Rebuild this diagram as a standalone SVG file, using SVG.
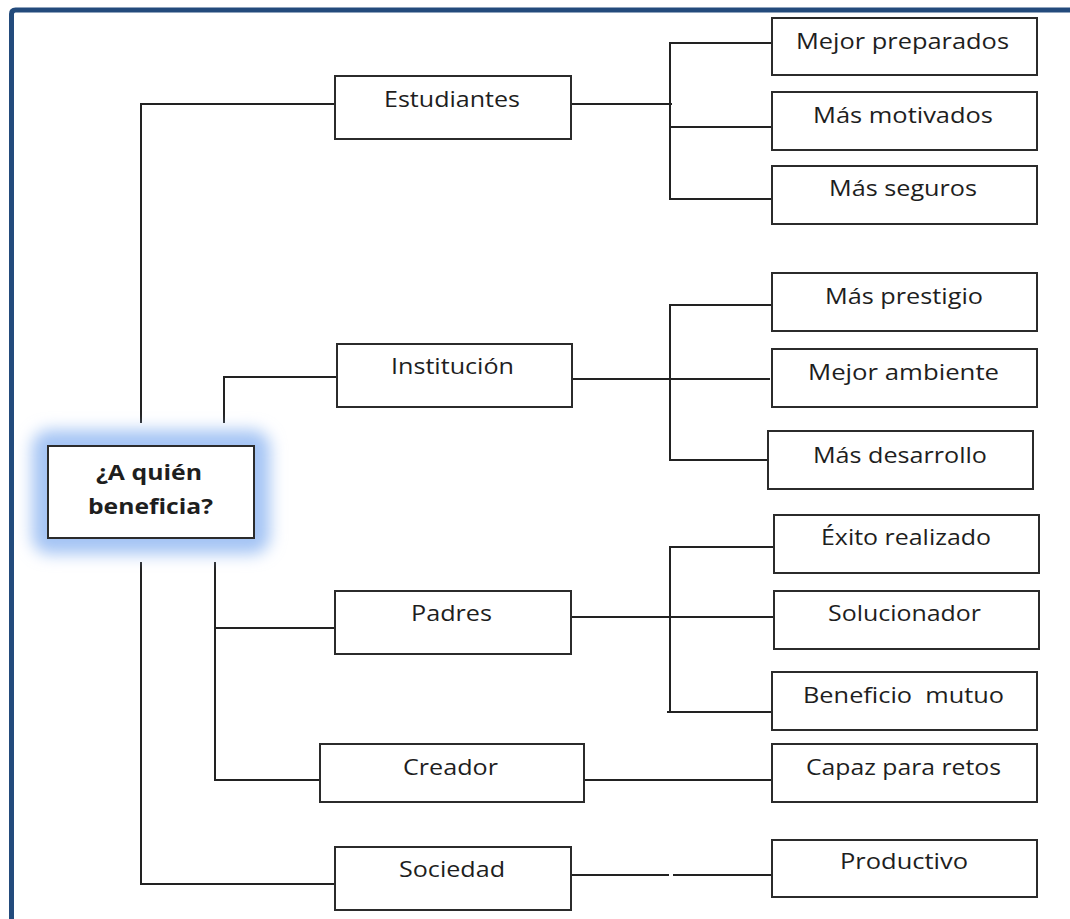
<svg xmlns="http://www.w3.org/2000/svg" width="1070" height="919" viewBox="0 0 1070 919">
<style>
.box{fill:#fff;stroke:#2b2b2b;stroke-width:2}
.ln{fill:none;stroke:#222;stroke-width:2}
.t{font-family:"Open Sans","Liberation Sans",sans-serif;font-size:21px;fill:#1e1e1e}
.b{font-weight:bold}
</style>
<defs>
<filter id="glow" x="-30%" y="-40%" width="160%" height="180%">
<feGaussianBlur stdDeviation="8"/>
</filter>
</defs>
<rect width="1070" height="919" fill="#fff"/>
<path d="M11.5 919 V14 Q11.5 10 15.5 10 H1070" fill="none" stroke="#234b7c" stroke-width="5"/>
<g id="connectors">
<path class="ln" d="M141 423 V104 H335"/>
<path class="ln" d="M224 423 V377 H337"/>
<path class="ln" d="M141 562 V884 H335"/>
<path class="ln" d="M215 562 V780 H320"/>
<path class="ln" d="M215 628 H335"/>
<path class="ln" d="M571 104 H672"/>
<path class="ln" d="M772 43 H670 V199 H772"/>
<path class="ln" d="M671 127 H775"/>
<path class="ln" d="M572 379 H770"/>
<path class="ln" d="M772 305 H670 V460 H768"/>
<path class="ln" d="M571 617 H779"/>
<path class="ln" d="M774 547 H670 V712 H772"/>
<path class="ln" d="M667 712 H672"/>
<path class="ln" d="M584 780 H772"/>
<path class="ln" d="M571 875 H669 M673 875 H777"/>
</g>
<g id="root">
<rect x="32" y="430" width="238" height="124" rx="18" fill="#a4c4f4" filter="url(#glow)"/>
<rect class="box" x="48" y="446" width="206" height="92"/>
<text class="t b" x="149" y="480" text-anchor="middle" textLength="106" lengthAdjust="spacingAndGlyphs">¿A quién</text>
<text class="t b" x="150.5" y="514" text-anchor="middle" textLength="125" lengthAdjust="spacingAndGlyphs">beneficia?</text>
</g>
<g id="estudiantes">
<rect class="box" x="335" y="76" width="236" height="63"/>
<text class="t" x="452" y="107" text-anchor="middle" textLength="136" lengthAdjust="spacingAndGlyphs">Estudiantes</text>
</g>
<g id="institucion">
<rect class="box" x="337" y="344" width="235" height="63"/>
<text class="t" x="452.5" y="374" text-anchor="middle" textLength="123" lengthAdjust="spacingAndGlyphs">Institución</text>
</g>
<g id="padres">
<rect class="box" x="335" y="591" width="236" height="63"/>
<text class="t" x="451.5" y="621" text-anchor="middle" textLength="81" lengthAdjust="spacingAndGlyphs">Padres</text>
</g>
<g id="creador">
<rect class="box" x="320" y="744" width="264" height="58"/>
<text class="t" x="450.5" y="775" text-anchor="middle" textLength="95" lengthAdjust="spacingAndGlyphs">Creador</text>
</g>
<g id="sociedad">
<rect class="box" x="335" y="847" width="236" height="63"/>
<text class="t" x="452" y="877" text-anchor="middle" textLength="106" lengthAdjust="spacingAndGlyphs">Sociedad</text>
</g>
<g id="mejor-preparados">
<rect class="box" x="772" y="18" width="265" height="57"/>
<text class="t" x="902.5" y="49" text-anchor="middle" textLength="213" lengthAdjust="spacingAndGlyphs">Mejor preparados</text>
</g>
<g id="mas-motivados">
<rect class="box" x="772" y="92" width="265" height="58"/>
<text class="t" x="903" y="123" text-anchor="middle" textLength="180" lengthAdjust="spacingAndGlyphs">Más motivados</text>
</g>
<g id="mas-seguros">
<rect class="box" x="772" y="166" width="265" height="58"/>
<text class="t" x="903" y="196" text-anchor="middle" textLength="148" lengthAdjust="spacingAndGlyphs">Más seguros</text>
</g>
<g id="mas-prestigio">
<rect class="box" x="772" y="273" width="265" height="58"/>
<text class="t" x="904" y="304" text-anchor="middle" textLength="158" lengthAdjust="spacingAndGlyphs">Más prestigio</text>
</g>
<g id="mejor-ambiente">
<rect class="box" x="772" y="349" width="265" height="58"/>
<text class="t" x="903.5" y="380" text-anchor="middle" textLength="191" lengthAdjust="spacingAndGlyphs">Mejor ambiente</text>
</g>
<g id="mas-desarrollo">
<rect class="box" x="768" y="431" width="265" height="58"/>
<text class="t" x="900" y="463" text-anchor="middle" textLength="174" lengthAdjust="spacingAndGlyphs">Más desarrollo</text>
</g>
<g id="exito-realizado">
<rect class="box" x="774" y="515" width="265" height="58"/>
<text class="t" x="906" y="545" text-anchor="middle" textLength="170" lengthAdjust="spacingAndGlyphs">Éxito realizado</text>
</g>
<g id="solucionador">
<rect class="box" x="774" y="591" width="265" height="58"/>
<text class="t" x="904.5" y="621" text-anchor="middle" textLength="153" lengthAdjust="spacingAndGlyphs">Solucionador</text>
</g>
<g id="beneficio-mutuo">
<rect class="box" x="772" y="672" width="265" height="58"/>
<text class="t" x="903.5" y="703" text-anchor="middle" textLength="201" lengthAdjust="spacingAndGlyphs" xml:space="preserve">Beneficio  mutuo</text>
</g>
<g id="capaz-para-retos">
<rect class="box" x="772" y="744" width="265" height="58"/>
<text class="t" x="903.5" y="775" text-anchor="middle" textLength="195" lengthAdjust="spacingAndGlyphs">Capaz para retos</text>
</g>
<g id="productivo">
<rect class="box" x="772" y="840" width="265" height="57"/>
<text class="t" x="904" y="869" text-anchor="middle" textLength="128" lengthAdjust="spacingAndGlyphs">Productivo</text>
</g>
</svg>
